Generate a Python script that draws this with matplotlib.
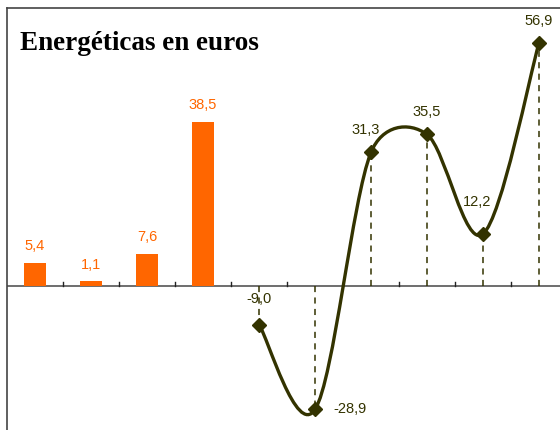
import numpy as np
import matplotlib
matplotlib.use("Agg")
import matplotlib.pyplot as plt
from matplotlib.path import Path
from matplotlib.patches import PathPatch

title = "Energéticas en euros"
bar_pos = [0, 1, 2, 3]
bar_vals = [5.4, 1.1, 7.6, 38.5]
line_pos = [4, 5, 6, 7, 8, 9]
line_vals = [-9.0, -28.9, 31.3, 35.5, 12.2, 56.9]

orange = "#FF6600"
olive = "#333300"

fig = plt.figure(figsize=(5.6, 4.3), dpi=100)
ax = fig.add_axes([7 / 560, 0, 560 / 560, 422 / 430])
ax.set_xlim(-0.5, 9.5)
ax.set_ylim(-33.7, 65.1)

# bars
ax.bar(bar_pos, bar_vals, width=0.41, color=orange, zorder=2)
for x, v in zip(bar_pos, bar_vals):
    ax.annotate(f"{v:.1f}".replace(".", ","), (x, v), xytext=(0, 7),
                textcoords="offset points", ha="center", va="bottom",
                color=orange, fontsize=10.5, family="Liberation Sans")

# smoothed line: bezier through the points, worked out in screen space,
# control arms capped at half the segment length (spreadsheet-like look)
pts = ax.transData.transform(np.column_stack([line_pos, line_vals]).astype(float))
n = len(pts)

def arm(i_prev, i, i_next, seg_len):
    d = (pts[i_next] - pts[i_prev]) / 6
    L = np.hypot(*d)
    cap = 0.5 * seg_len
    return d * min(1.0, cap / L) if L > 0 else d

verts = [pts[0]]
codes = [Path.MOVETO]
for i in range(n - 1):
    seg = np.hypot(*(pts[i + 1] - pts[i]))
    c1 = pts[i] + arm(max(i - 1, 0), i, i + 1, seg)
    c2 = pts[i + 1] - arm(i, i + 1, min(i + 2, n - 1), seg)
    verts += [c1, c2, pts[i + 1]]
    codes += [Path.CURVE4] * 3
verts = ax.transData.inverted().transform(np.array(verts))
ax.add_patch(PathPatch(Path(verts, codes), facecolor="none", edgecolor=olive,
                       lw=2.4, zorder=4))
ax.plot(line_pos, line_vals, ls="none", marker="D", ms=7, color=olive, zorder=5)

# drop lines
ax.vlines(line_pos, 0, line_vals, colors=olive, linestyles=(0, (4, 3.5)), lw=1.1, zorder=3)

offsets = [(0, 13), (13, 0), (-4, 11), (0, 11), (-4, 18), (0, 11)]
aligns = [("center", "bottom"), ("left", "center"), ("center", "bottom"),
          ("center", "bottom"), ("center", "bottom"), ("center", "bottom")]
for x, v, off, (ha, va) in zip(line_pos, line_vals, offsets, aligns):
    ax.annotate(f"{v:.1f}".replace(".", ","), (x, v), xytext=off,
                textcoords="offset points", ha=ha, va=va,
                color=olive, fontsize=10.5, family="Liberation Sans", zorder=6)

# zero axis with category ticks
ax.axhline(0, color="#555555", lw=1.2, zorder=1)
for b in np.arange(0.5, 9.5, 1.0):
    ax.plot([b, b], [0, 1.0], color="#222222", lw=1, zorder=1)

for s in ["right", "bottom"]:
    ax.spines[s].set_visible(False)
for s in ["left", "top"]:
    ax.spines[s].set_color("#444444")
    ax.spines[s].set_linewidth(1.2)
ax.set_xticks([])
ax.set_yticks([])

fig.text(20 / 560, 1 - 43 / 430, title, fontsize=19.5, fontweight="bold",
         family="Liberation Serif", va="center", ha="left")

fig.savefig("out.png", dpi=100)
